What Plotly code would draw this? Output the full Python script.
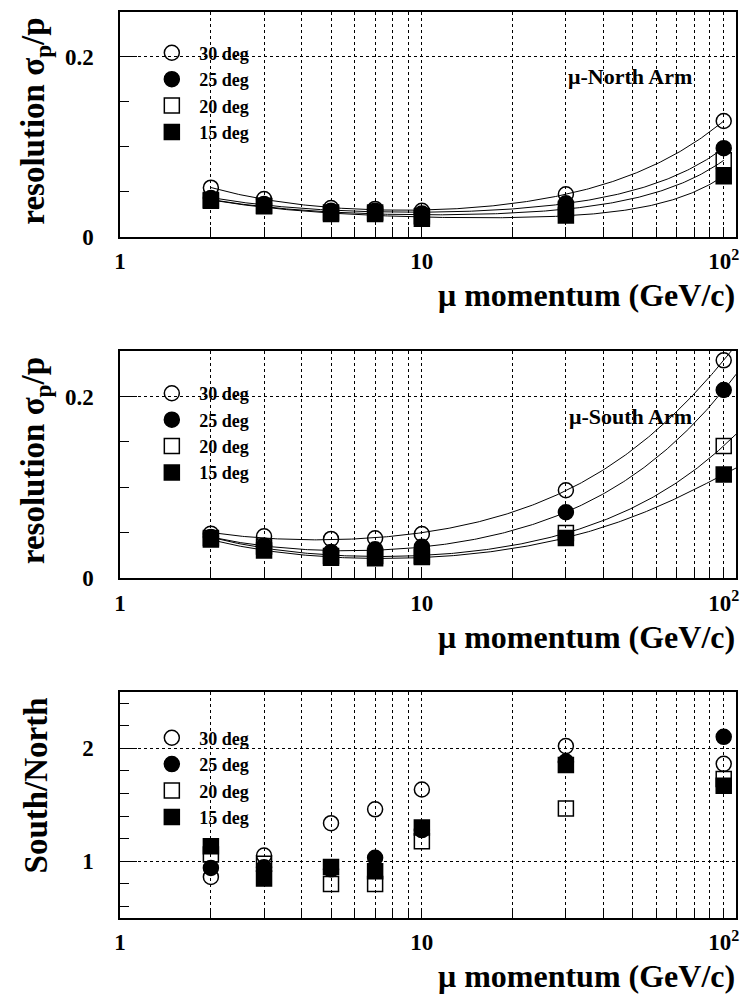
import numpy as np
import plotly.graph_objects as go

# ---------------------------------------------------------------- data
momentum = [2, 3, 5, 7, 10, 30, 100]          # GeV/c
angles = ["30 deg", "25 deg", "20 deg", "15 deg"]

north_30 = [0.0546, 0.0420, 0.0320, 0.0310, 0.0290, 0.0473, 0.1286]
north_25 = [0.0430, 0.0365, 0.0290, 0.0290, 0.0260, 0.0372, 0.0984]
north_20 = [0.0410, 0.0340, 0.0270, 0.0270, 0.0230, 0.0310, 0.0849]
north_15 = [0.0400, 0.0346, 0.0255, 0.0255, 0.0200, 0.0237, 0.0674]

south_30 = [0.0492, 0.0463, 0.0434, 0.0441, 0.0488, 0.0969, 0.2398]
south_25 = [0.0456, 0.0360, 0.0290, 0.0320, 0.0347, 0.0727, 0.2072]
south_20 = [0.0445, 0.0350, 0.0246, 0.0246, 0.0246, 0.0499, 0.1457]
south_15 = [0.0427, 0.0307, 0.0228, 0.0220, 0.0235, 0.0445, 0.1143]

ratio_30 = [0.863, 1.052, 1.338, 1.461, 1.636, 2.020, 1.863]
ratio_25 = [0.942, 0.948, 0.930, 1.032, 1.277, 1.883, 2.102]
ratio_20 = [1.061, 0.980, 0.800, 0.800, 1.178, 1.469, 1.729]
ratio_15 = [1.134, 0.848, 0.950, 0.913, 1.300, 1.854, 1.670]

north = [north_30, north_25, north_20, north_15]
south = [south_30, south_25, south_20, south_15]
ratio = [ratio_30, ratio_25, ratio_20, ratio_15]

x_tick_vals = [1, 10, 100]
x_tick_text = ["1", "10", "10<sup>2</sup>"]
x_minor_vals = [2, 3, 4, 5, 6, 7, 8, 9, 20, 30, 40, 50, 60, 70, 80, 90]

# ---------------------------------------------------------------- style
W, H = 754, 999
SERIF = "Liberation Serif"
symbols = ["circle-open", "circle", "square-open", "square"]
x_title = "\u03bc momentum (GeV/c)"


def fx(px):
    return px / W


def fy(px):
    return 1 - px / H


x_dom = [fx(115.4), fx(738.8)]
# (top, bottom) of each frame in pixels
frames = [(11.7, 240.0), (355.7, 586.0), (701.0, 930.0)]
# upper momentum end of the drawn fit curves, per resolution panel
fit_end = [100, 110]


def resolution_fit(p, y, p_end):
    """Least-squares fit with terms 1/p, const, p, p^2; returns a smooth curve."""
    p = np.asarray(p, float)
    y = np.asarray(y, float)
    A = np.vstack([1 / p, np.ones_like(p), p, p ** 2]).T
    coef, *_ = np.linalg.lstsq(A, y, rcond=None)
    pp = np.geomspace(p.min(), p_end, 300)
    B = np.vstack([1 / pp, np.ones_like(pp), pp, pp ** 2]).T
    return pp, B @ coef


fig = go.Figure()

panels = [north, south, ratio]
for i, series in enumerate(panels):
    ax = "" if i == 0 else str(i + 1)
    leg = "legend" if i == 0 else f"legend{i + 1}"
    if i < 2:
        for vals in series:
            px_, py_ = resolution_fit(momentum, vals, fit_end[i])
            fig.add_trace(go.Scatter(
                x=px_, y=py_, mode="lines", showlegend=False,
                line=dict(color="black", width=1),
                xaxis="x" + ax, yaxis="y" + ax, hoverinfo="skip"))
    for k, vals in enumerate(series):
        fig.add_trace(go.Scatter(
            x=momentum, y=vals, mode="markers", name=angles[k],
            legend=leg, xaxis="x" + ax, yaxis="y" + ax,
            marker=dict(symbol=symbols[k], size=15, color="black",
                        line=dict(color="black", width=1.5))))

tick_font = dict(family=SERIF, size=23, color="black", weight="bold")

for i, (top, bot) in enumerate(frames):
    ax = "" if i == 0 else str(i + 1)
    xkey = "xaxis" + ax
    ykey = "yaxis" + ax
    fig.layout[xkey] = dict(
        type="log", range=[0, 2.0406], domain=x_dom, anchor="y" + ax,
        tickvals=x_tick_vals, ticktext=x_tick_text,
        ticks="inside", ticklen=10, tickwidth=1, tickcolor="black",
        showgrid=True, gridcolor="black", griddash="dot", gridwidth=1,
        minor=dict(tickvals=x_minor_vals, ticks="inside", ticklen=10,
                   tickcolor="black", showgrid=True, gridcolor="black",
                   griddash="dot", gridwidth=1),
        showline=True, linecolor="black", linewidth=2 if i < 2 else 1.5,
        mirror=True, zeroline=False, tickfont=tick_font,
        ticklabelstandoff=3)
    if i < 2:
        yrange, yt, ytt = [0, 0.25], [0, 0.2], ["0", "0.2"]
        yminor = [0.05, 0.10, 0.15]
    else:
        yrange, yt, ytt = [0.5, 2.5], [1, 2], ["1", "2"]
        yminor = [0.6, 0.8, 1.2, 1.4, 1.6, 1.8, 2.2, 2.4]
    fig.layout[ykey] = dict(
        range=yrange, domain=[fy(bot), fy(top)], anchor="x" + ax,
        tickvals=yt, ticktext=ytt, ticks="inside", ticklen=17,
        tickcolor="black", showgrid=True, gridcolor="black",
        griddash="dot", gridwidth=1,
        minor=dict(tickvals=yminor, ticks="inside", ticklen=9,
                   tickcolor="black", showgrid=False),
        showline=True, linecolor="black", linewidth=1.5, mirror=True,
        zeroline=False, tickfont=tick_font, ticklabelstandoff=20)

legend_font = dict(family=SERIF, size=18, color="black", weight="bold")
legend_tops = [35, 380, 729]
for i, t in enumerate(legend_tops):
    key = "legend" if i == 0 else f"legend{i + 1}"
    fig.layout[key] = dict(
        x=fx(140), y=fy(t), xanchor="left", yanchor="top",
        bgcolor="rgba(0,0,0,0)", borderwidth=0, font=legend_font,
        itemsizing="trace", itemwidth=45, tracegroupgap=0)

annotations = []
y_titles = ["resolution \u03c3<sub>p</sub>/p", "resolution \u03c3<sub>p</sub>/p",
            "South/North"]
arm_labels = ["\u03bc-North Arm", "\u03bc-South Arm", None]
for i, (top, bot) in enumerate(frames):
    annotations.append(dict(
        text=y_titles[i], textangle=-90, xref="paper", yref="paper",
        x=fx(30), y=fy(top + 4), xanchor="center", yanchor="top",
        showarrow=False,
        font=dict(family=SERIF, size=33, color="black", weight="bold")))
    annotations.append(dict(
        text=x_title, xref="paper", yref="paper",
        x=fx(740), y=fy(bot + 59), xanchor="right", yanchor="middle",
        showarrow=False,
        font=dict(family=SERIF, size=32, color="black", weight="bold")))
    if arm_labels[i]:
        annotations.append(dict(
            text=arm_labels[i], xref="paper", yref="paper",
            x=fx(632), y=fy(top + 66), xanchor="center", yanchor="middle",
            showarrow=False,
            font=dict(family=SERIF, size=22, color="black", weight="bold")))

fig.update_layout(
    width=W, height=H, margin=dict(l=0, r=0, t=0, b=0),
    paper_bgcolor="white", plot_bgcolor="white",
    annotations=annotations, showlegend=True)

fig.write_html("out.html")
